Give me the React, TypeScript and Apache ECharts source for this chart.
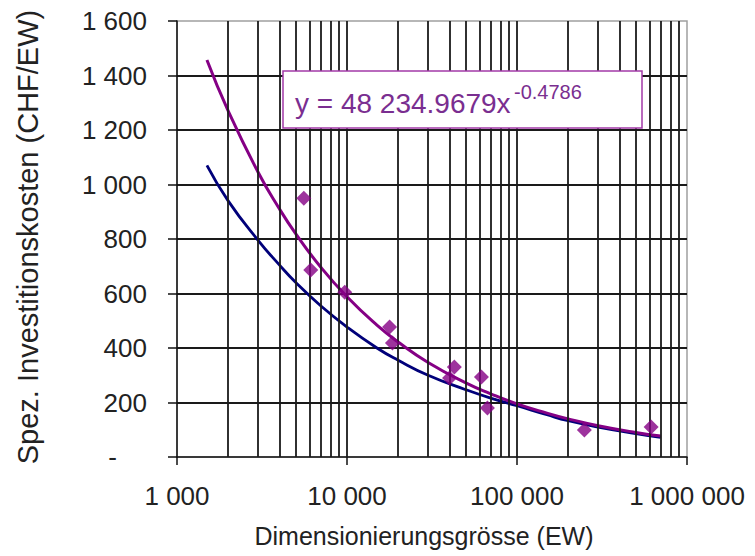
import React, { useEffect, useRef } from "react";
import * as echarts from "echarts";

const pointX = [5570, 6120, 9700, 17800, 18500, 40100, 42800, 61800, 67000, 249000, 615000];
const pointY = [950, 686, 605, 477, 418, 290, 330, 294, 180, 99, 110];

const curveX = [1500, 2000, 3000, 4000, 5000, 7000, 10000, 15000, 20000, 30000, 50000, 70000, 100000, 150000, 200000, 300000, 500000, 700000];
const purpleY = [1457, 1270, 1045, 911, 819, 697, 588, 484, 422, 347, 272, 232, 195, 161, 140, 115, 90, 77];
const blueY = [1070, 940, 795, 705, 640, 555, 477, 400, 355, 300, 247, 216, 188, 155, 133, 110, 86, 72];

const gridX = [
  2000, 3000, 4000, 5000, 6000, 7000, 8000, 9000,
  10000, 20000, 30000, 40000, 50000, 60000, 70000, 80000, 90000,
  100000, 200000, 300000, 400000, 500000, 600000, 700000, 800000, 900000,
];

const yTitle = "Spez. Investitionskosten (CHF/EW)";
const xTitle = "Dimensionierungsgrösse (EW)";
const eqMain = "y = 48 234.9679x";
const eqExp = "-0.4786";

const FONT = "'Liberation Sans', Arial, sans-serif";

function fmt(v: number): string {
  return Math.round(v).toString().replace(/\B(?=(\d{3})+(?!\d))/g, " ");
}

export default function App() {
  const ref = useRef<HTMLDivElement>(null);
  useEffect(() => {
    if (!ref.current) return;
    const chart = echarts.init(ref.current, null, { renderer: "svg" });
    const purple = "#850085";
    const navy = "#00007a";
    chart.setOption({
      animation: false,
      backgroundColor: "#ffffff",
      textStyle: { fontFamily: FONT },
      grid: {
        left: 177,
        top: 21,
        right: 68,
        bottom: 99,
        show: true,
        borderColor: "#a0a0a0",
        borderWidth: 1.5,
        backgroundColor: "transparent",
      },
      xAxis: {
        type: "log",
        logBase: 10,
        min: 1000,
        max: 1000000,
        axisLine: { show: true, lineStyle: { color: "#111", width: 1.5 } },
        axisTick: { show: true, inside: false, length: 8, lineStyle: { color: "#111", width: 1.5 } },
        splitLine: { show: false },
        axisLabel: {
          fontSize: 26,
          color: "#222",
          fontFamily: FONT,
          margin: 26,
          formatter: (v: number) => fmt(v),
        },
      },
      yAxis: {
        type: "value",
        min: 0,
        max: 1600,
        interval: 200,
        axisLine: { show: true, lineStyle: { color: "#111", width: 1.5 } },
        axisTick: { show: true, inside: false, length: 9, lineStyle: { color: "#111", width: 1.5 } },
        splitLine: {
          show: true,
          showMinLine: false,
          showMaxLine: false,
          lineStyle: { color: "#1a1a1a", width: 1.8 },
        },
        axisLabel: {
          fontSize: 26,
          color: "#222",
          fontFamily: FONT,
          margin: 30,
          formatter: (v: number) => (v === 0 ? "{d|-}" : fmt(v)),
          rich: { d: { fontSize: 26, color: "#222", padding: [0, 30, 0, 0] } },
        },
      },
      series: [
        {
          type: "line",
          data: [],
          z: 1,
          silent: true,
          markLine: {
            silent: true,
            symbol: ["none", "none"],
            label: { show: false },
            lineStyle: { color: "#1a1a1a", width: 1.8, type: "solid" },
            emphasis: { disabled: true },
            data: gridX.map((x) => ({ xAxis: x })),
          },
        },
        {
          type: "line",
          name: "blue",
          data: curveX.map((x, i) => [x, blueY[i]]),
          smooth: true,
          showSymbol: false,
          z: 3,
          lineStyle: { color: navy, width: 2.8 },
          itemStyle: { color: navy },
        },
        {
          type: "line",
          name: "trend",
          data: curveX.map((x, i) => [x, purpleY[i]]),
          smooth: true,
          showSymbol: false,
          z: 4,
          lineStyle: { color: purple, width: 3 },
          itemStyle: { color: purple },
        },
        {
          type: "scatter",
          name: "points",
          data: pointX.map((x, i) => [x, pointY[i]]),
          symbol: "diamond",
          symbolSize: 15,
          z: 5,
          itemStyle: { color: purple },
        },
      ],
      graphic: [
        {
          type: "rect",
          shape: { x: 283, y: 71, width: 359, height: 57 },
          style: { fill: "#ffffff", stroke: "#a23aa8", lineWidth: 1.5 },
          z: 10,
        },
        {
          type: "text",
          x: 295,
          y: 103,
          z: 11,
          style: {
            text: eqMain,
            fontSize: 28,
            fontFamily: FONT,
            fill: "#7a2e90",
            align: "left",
            verticalAlign: "middle",
          },
        },
        {
          type: "text",
          x: 514,
          y: 92,
          z: 11,
          style: {
            text: eqExp,
            fontSize: 20,
            fontFamily: FONT,
            fill: "#7a2e90",
            align: "left",
            verticalAlign: "middle",
          },
        },
        {
          type: "text",
          x: 28,
          y: 237,
          rotation: Math.PI / 2,
          style: {
            text: yTitle,
            fontSize: 29,
            fontFamily: FONT,
            fill: "#222",
            align: "center",
            verticalAlign: "middle",
          },
        },
        {
          type: "text",
          x: 424,
          y: 536,
          style: {
            text: xTitle,
            fontSize: 25,
            fontFamily: FONT,
            fill: "#222",
            align: "center",
            verticalAlign: "middle",
          },
        },
      ],
    });
    return () => chart.dispose();
  }, []);
  return (
    <div
      ref={ref}
      style={{ position: "fixed", left: 0, top: 0, width: 755, height: 556, background: "#fff" }}
    />
  );
}
